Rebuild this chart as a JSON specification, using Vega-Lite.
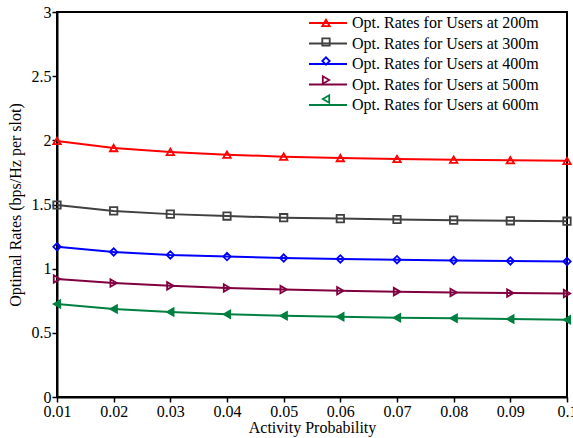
{
  "$schema": "https://vega.github.io/schema/vega-lite/v6.json",
  "autosize": "none",
  "width": 510,
  "height": 385,
  "padding": {"left": 57, "top": 12, "right": 6, "bottom": 41},
  "background": "white",
  "config": {
    "view": {"stroke": "black", "strokeWidth": 2, "fill": "transparent"},
    "font": "Liberation Serif",
    "axis": {"grid": false, "zindex": 2, "domainColor": "black", "domainWidth": 2, "tickColor": "black", "tickWidth": 1.5, "labelFont": "Liberation Serif", "titleFont": "Liberation Serif", "labelFontSize": 16, "titleFontSize": 16, "labelColor": "black", "titleColor": "black", "titleFontWeight": "normal", "labelOverlap": false, "labelFlush": false, "labelBound": false},
    "legend": {"labelFont": "Liberation Serif", "labelFontSize": 16, "labelColor": "black"}
  },
  "data": {"values": [
    {"p": 0.01, "r": 1.995, "s": "Opt. Rates for Users at 200m"},
    {"p": 0.02, "r": 1.94, "s": "Opt. Rates for Users at 200m"},
    {"p": 0.03, "r": 1.91, "s": "Opt. Rates for Users at 200m"},
    {"p": 0.04, "r": 1.888, "s": "Opt. Rates for Users at 200m"},
    {"p": 0.05, "r": 1.873, "s": "Opt. Rates for Users at 200m"},
    {"p": 0.06, "r": 1.862, "s": "Opt. Rates for Users at 200m"},
    {"p": 0.07, "r": 1.855, "s": "Opt. Rates for Users at 200m"},
    {"p": 0.08, "r": 1.849, "s": "Opt. Rates for Users at 200m"},
    {"p": 0.09, "r": 1.845, "s": "Opt. Rates for Users at 200m"},
    {"p": 0.1, "r": 1.84, "s": "Opt. Rates for Users at 200m"},
    {"p": 0.01, "r": 1.496, "s": "Opt. Rates for Users at 300m"},
    {"p": 0.02, "r": 1.45, "s": "Opt. Rates for Users at 300m"},
    {"p": 0.03, "r": 1.425, "s": "Opt. Rates for Users at 300m"},
    {"p": 0.04, "r": 1.41, "s": "Opt. Rates for Users at 300m"},
    {"p": 0.05, "r": 1.397, "s": "Opt. Rates for Users at 300m"},
    {"p": 0.06, "r": 1.39, "s": "Opt. Rates for Users at 300m"},
    {"p": 0.07, "r": 1.383, "s": "Opt. Rates for Users at 300m"},
    {"p": 0.08, "r": 1.378, "s": "Opt. Rates for Users at 300m"},
    {"p": 0.09, "r": 1.373, "s": "Opt. Rates for Users at 300m"},
    {"p": 0.1, "r": 1.37, "s": "Opt. Rates for Users at 300m"},
    {"p": 0.01, "r": 1.17, "s": "Opt. Rates for Users at 400m"},
    {"p": 0.02, "r": 1.13, "s": "Opt. Rates for Users at 400m"},
    {"p": 0.03, "r": 1.107, "s": "Opt. Rates for Users at 400m"},
    {"p": 0.04, "r": 1.094, "s": "Opt. Rates for Users at 400m"},
    {"p": 0.05, "r": 1.083, "s": "Opt. Rates for Users at 400m"},
    {"p": 0.06, "r": 1.076, "s": "Opt. Rates for Users at 400m"},
    {"p": 0.07, "r": 1.07, "s": "Opt. Rates for Users at 400m"},
    {"p": 0.08, "r": 1.064, "s": "Opt. Rates for Users at 400m"},
    {"p": 0.09, "r": 1.06, "s": "Opt. Rates for Users at 400m"},
    {"p": 0.1, "r": 1.056, "s": "Opt. Rates for Users at 400m"},
    {"p": 0.01, "r": 0.92, "s": "Opt. Rates for Users at 500m"},
    {"p": 0.02, "r": 0.888, "s": "Opt. Rates for Users at 500m"},
    {"p": 0.03, "r": 0.866, "s": "Opt. Rates for Users at 500m"},
    {"p": 0.04, "r": 0.85, "s": "Opt. Rates for Users at 500m"},
    {"p": 0.05, "r": 0.837, "s": "Opt. Rates for Users at 500m"},
    {"p": 0.06, "r": 0.828, "s": "Opt. Rates for Users at 500m"},
    {"p": 0.07, "r": 0.821, "s": "Opt. Rates for Users at 500m"},
    {"p": 0.08, "r": 0.815, "s": "Opt. Rates for Users at 500m"},
    {"p": 0.09, "r": 0.81, "s": "Opt. Rates for Users at 500m"},
    {"p": 0.1, "r": 0.806, "s": "Opt. Rates for Users at 500m"},
    {"p": 0.01, "r": 0.725, "s": "Opt. Rates for Users at 600m"},
    {"p": 0.02, "r": 0.686, "s": "Opt. Rates for Users at 600m"},
    {"p": 0.03, "r": 0.663, "s": "Opt. Rates for Users at 600m"},
    {"p": 0.04, "r": 0.645, "s": "Opt. Rates for Users at 600m"},
    {"p": 0.05, "r": 0.633, "s": "Opt. Rates for Users at 600m"},
    {"p": 0.06, "r": 0.625, "s": "Opt. Rates for Users at 600m"},
    {"p": 0.07, "r": 0.618, "s": "Opt. Rates for Users at 600m"},
    {"p": 0.08, "r": 0.613, "s": "Opt. Rates for Users at 600m"},
    {"p": 0.09, "r": 0.607, "s": "Opt. Rates for Users at 600m"},
    {"p": 0.1, "r": 0.602, "s": "Opt. Rates for Users at 600m"}
  ]},
  "layer": [
    {
      "mark": {"type": "line", "strokeWidth": 2},
      "encoding": {
        "x": {"field": "p", "type": "quantitative", "scale": {"domain": [0.01, 0.1], "nice": false, "zero": false},
          "axis": {"orient": "bottom", "title": "Activity Probability", "titlePadding": 0, "values": [0.01,0.02,0.03,0.04,0.05,0.06,0.07,0.08,0.09,0.1], "format": "~g", "ticks": true, "tickSize": 5, "labelPadding": 1}},
        "y": {"field": "r", "type": "quantitative", "scale": {"domain": [0, 3], "nice": false},
          "axis": {"orient": "left", "title": "Optimal Rates (bps/Hz per slot)", "titlePadding": 8, "values": [0,0.5,1,1.5,2,2.5,3], "format": "~g", "ticks": true, "tickSize": 5, "labelPadding": 1}},
        "color": {"field": "s", "type": "nominal",
          "scale": {"domain": ["Opt. Rates for Users at 200m", "Opt. Rates for Users at 300m", "Opt. Rates for Users at 400m", "Opt. Rates for Users at 500m", "Opt. Rates for Users at 600m"],
            "range": ["#ff0000", "#404040", "#0000ff", "#800040", "#008040"]},
          "legend": {"title": null, "orient": "none", "legendX": 260.5, "legendY": 0.5, "padding": 0, "rowPadding": 1.5, "symbolType": "M-2,0H2", "symbolSize": 361, "symbolStrokeWidth": 2, "labelOffset": 13.5, "labelLimit": 400}}
      }
    },
    {
      "mark": {"type": "point", "filled": false, "strokeWidth": 1.8, "size": 55, "opacity": 1},
      "encoding": {
        "x": {"field": "p", "type": "quantitative", "axis": null},
        "y": {"field": "r", "type": "quantitative", "axis": null},
        "color": {"field": "s", "type": "nominal",
          "legend": {"title": null, "orient": "none", "legendX": 261, "legendY": 3, "padding": 0, "rowPadding": 3, "symbolSize": 55, "symbolStrokeWidth": 1.8, "labelOpacity": 0, "labelLimit": 400}},
        "shape": {"field": "s", "type": "nominal",
          "scale": {"domain": ["Opt. Rates for Users at 200m", "Opt. Rates for Users at 300m", "Opt. Rates for Users at 400m", "Opt. Rates for Users at 500m", "Opt. Rates for Users at 600m"],
            "range": ["triangle-up", "square", "diamond", "triangle-right", "triangle-left"]},
          "legend": {"title": null, "orient": "none", "legendX": 261, "legendY": 3, "padding": 0, "rowPadding": 3, "symbolSize": 55, "symbolStrokeWidth": 1.8, "labelOpacity": 0, "labelLimit": 400}}
      }
    },
    {
      "transform": [{"filter": "datum.s == 'Opt. Rates for Users at 600m'"}],
      "mark": {"type": "point", "shape": "triangle-left", "filled": true, "color": "#008040", "size": 75, "opacity": 1},
      "encoding": {
        "x": {"field": "p", "type": "quantitative", "axis": null},
        "y": {"field": "r", "type": "quantitative", "axis": null}
      }
    }
  ],
  "resolve": {"axis": {"x": "independent", "y": "independent"}, "legend": {"color": "independent", "shape": "independent"}}
}
